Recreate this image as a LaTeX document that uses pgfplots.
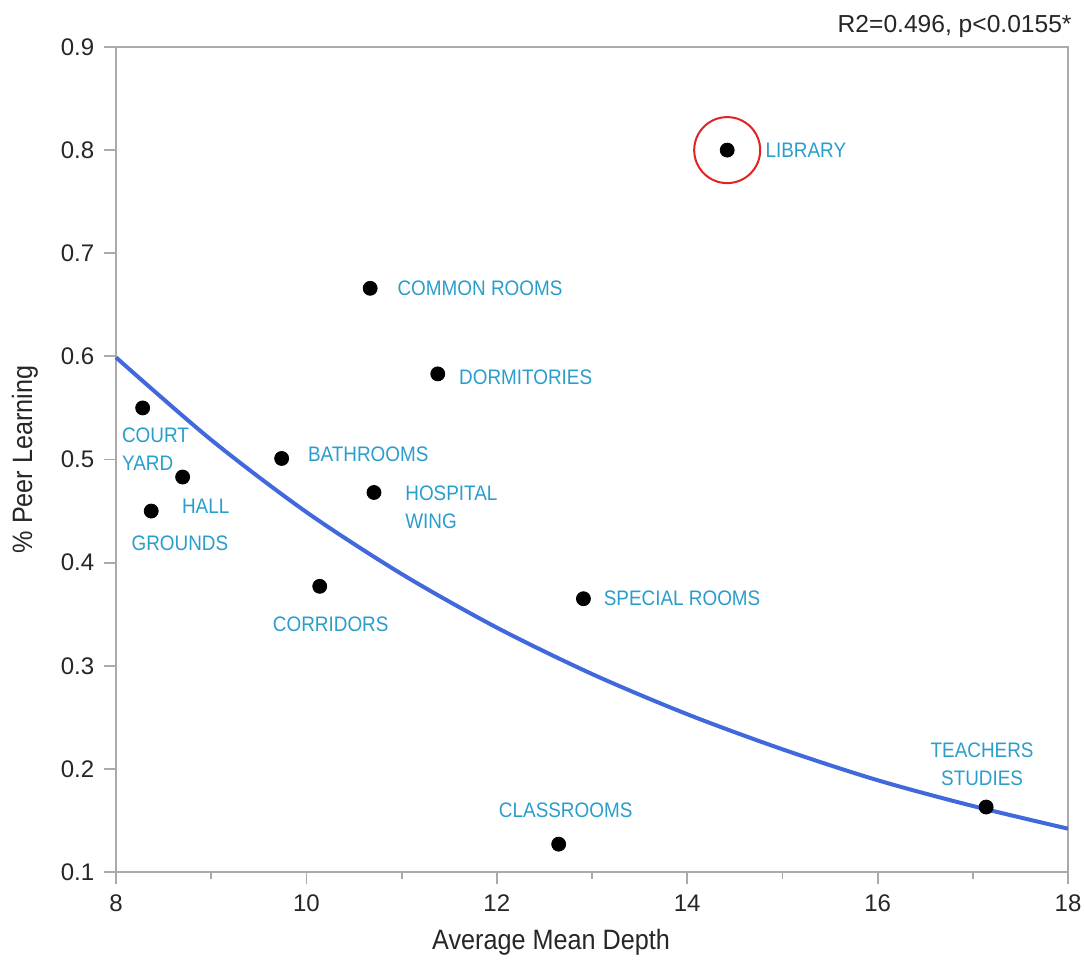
\documentclass[border=0pt]{standalone}
\usepackage{fontspec}
\setmainfont{Liberation Sans}
\newfontfamily\narrowfont{Liberation Sans}[FakeStretch=0.9]
\usepackage{pgfplots}
\pgfplotsset{compat=1.18}
\definecolor{lbl}{RGB}{41,157,204}
\definecolor{fitblue}{RGB}{65,105,220}
\definecolor{axisgray}{RGB}{170,170,170}
\definecolor{circred}{RGB}{225,35,35}

% data points: average mean depth, % peer learning
\pgfplotstableread{
x      y
14.42  0.800
10.67  0.666
11.38  0.583
8.28   0.550
8.70   0.483
9.74   0.501
10.71  0.468
8.37   0.450
10.14  0.377
12.91  0.365
12.65  0.127
17.14  0.163
}\pointdata

% fitted curve
\pgfplotstableread{
x     y
8     0.599
9     0.519
10    0.449
11    0.389
12    0.337
13    0.292
14    0.253
15    0.219
16    0.189
17    0.164
18    0.142
}\fitdata

\begin{document}
\begin{tikzpicture}
\begin{axis}[
  scale only axis,
  width=476pt, height=412.5pt,
  xmin=8, xmax=18, ymin=0.1, ymax=0.9,
  xtick={8,10,12,14,16,18},
  minor xtick={9,11,13,15,17},
  ytick={0.1,0.2,0.3,0.4,0.5,0.6,0.7,0.8,0.9},
  xtick pos=bottom, ytick pos=left,
  tick align=outside,
  major tick length=6pt, minor tick length=3.5pt,
  axis line style={draw=axisgray, line width=0.9pt},
  every tick/.style={draw=axisgray, line width=0.9pt},
  /pgf/number format/assume math mode=true,
  tick label style={font=\fontsize{12}{14}\selectfont, text=black!85},
  yticklabel style={/pgf/number format/fixed, /pgf/number format/precision=1, /pgf/number format/fixed zerofill, xshift=-1.4pt},
  xticklabel style={yshift=-2pt},
  xlabel={Average Mean Depth},
  ylabel={\% Peer Learning},
  label style={font=\narrowfont\fontsize{14}{16}\selectfont, text=black!85},
  xlabel style={at={([xshift=-20.5pt,yshift=-35pt]rel axis cs:0.5,0)}, anchor=center},
  ylabel style={at={([xshift=-45.5pt]rel axis cs:0,0.5)}, anchor=center, rotate=0},
  clip=false,
]
\addplot[fitblue, line width=2pt, smooth, no marks] table[x=x,y=y] {\fitdata};
\addplot[only marks, mark=*, mark size=3.5pt, black] table[x=x,y=y] {\pointdata};
\addplot[only marks, mark=o, mark size=16.5pt, circred, mark options={line width=1pt}] coordinates {(14.42,0.800)};

\begin{scope}[every node/.style={font=\narrowfont\fontsize{10.5}{14}\selectfont, text=lbl, inner sep=0pt}]
\node[anchor=west] at ([xshift=19pt]axis cs:14.42,0.800) {LIBRARY};
\node[anchor=west] at ([xshift=13.5pt]axis cs:10.67,0.666) {COMMON ROOMS};
\node[anchor=west] at ([xshift=10.5pt,yshift=-1.5pt]axis cs:11.38,0.583) {DORMITORIES};
\node[anchor=west] at ([xshift=13pt,yshift=2pt]axis cs:9.74,0.501) {BATHROOMS};
\node[anchor=north west, align=left] at ([xshift=15.5pt,yshift=3.75pt]axis cs:10.71,0.468) {HOSPITAL\\WING};
\node[anchor=north west, align=left] at ([xshift=-10.5pt,yshift=-10pt]axis cs:8.28,0.550) {COURT\\YARD};
\node[anchor=west] at ([xshift=-0.5pt,yshift=-14.5pt]axis cs:8.70,0.483) {HALL};
\node[anchor=west] at ([xshift=-10pt,yshift=-16pt]axis cs:8.37,0.450) {GROUNDS};
\node[anchor=center] at ([xshift=5.5pt,yshift=-19pt]axis cs:10.14,0.377) {CORRIDORS};
\node[anchor=west] at ([xshift=10pt]axis cs:12.91,0.365) {SPECIAL ROOMS};
\node[anchor=center] at ([xshift=3.5pt,yshift=17pt]axis cs:12.65,0.127) {CLASSROOMS};
\node[anchor=south, align=center] at ([xshift=-2pt,yshift=10.5pt]axis cs:17.14,0.163) {TEACHERS\\STUDIES};
\end{scope}

\node[anchor=base east, font=\fontsize{12.3}{14}\selectfont, text=black!85, inner sep=0pt] at ([xshift=2pt,yshift=7pt]rel axis cs:1,1) {R2=0.496, p<0.0155*};
\end{axis}
\pgfresetboundingbox
\path[use as bounding box] ([shift={(-58pt,-45pt)}]current axis.south west) rectangle ([shift={(8.5pt,23.5pt)}]current axis.north east);
\end{tikzpicture}
\end{document}
